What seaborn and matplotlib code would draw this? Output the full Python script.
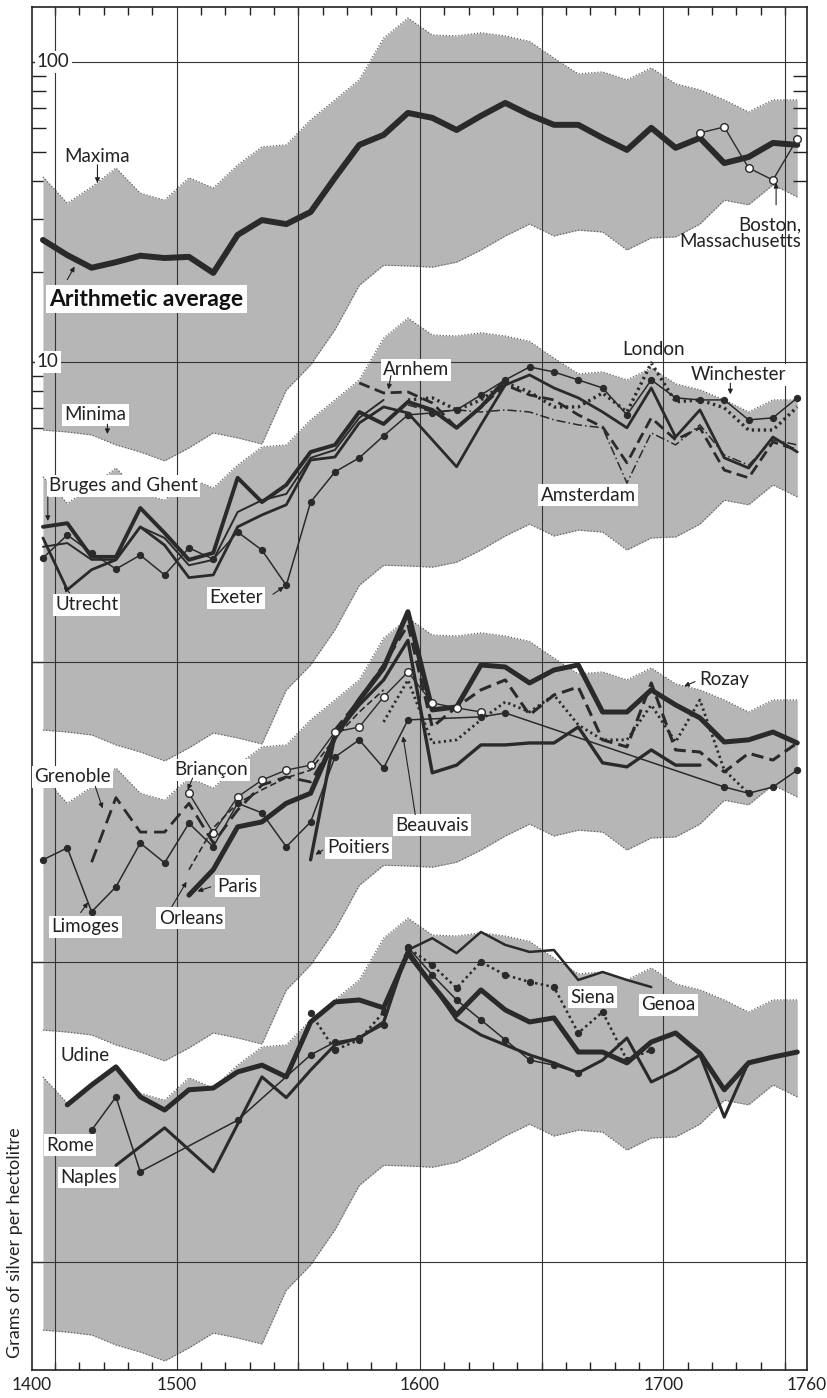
import matplotlib
matplotlib.use("Agg")
import matplotlib.pyplot as plt
from matplotlib.ticker import FixedLocator, NullLocator, NullFormatter
import numpy as np
import seaborn as sns


def yr(a, b):
    return list(range(a, b + 1, 10))


# decade mid-points, grams of silver per hectolitre
years = yr(1445, 1755)
maxima = [41.4, 33.8, 38.3, 44.3, 36.5, 34.6, 41.1, 38.0, 45.3, 52.1, 52.9, 64.1, 74.7, 87.1, 120, 140,
          123, 122, 125, 122, 117, 103, 91.2, 92.6, 87.1, 95.5, 84.5, 80.7, 74.7, 68.1, 74.7, 74.7]
minima = [5.93, 5.84, 5.71, 5.29, 5.01, 4.68, 5.17, 5.80, 5.58, 5.33, 8.06, 9.77, 12.8, 18.0, 21.0, 20.9,
          20.7, 21.5, 23.6, 26.3, 28.8, 26.3, 27.5, 27.1, 23.6, 25.9, 26.1, 28.8, 34.6, 33.4, 38.9, 35.5]

# panel 1 (plotted as is)
average = [25.5, 22.7, 20.6, 21.5, 22.6, 22.2, 22.4, 19.8, 26.5, 29.7, 28.8, 31.6, 41.1, 52.9, 57.1, 67.6,
           65.1, 59.3, 66.1, 73.0, 66.6, 61.7, 61.7, 55.8, 50.9, 60.3, 51.7, 55.8, 46.0, 48.2, 53.7, 52.9]
boston_years = yr(1715, 1755)
boston = [58.0, 60.7, 44.3, 40.4, 55.4]

# panel 2 (shifted down one decade)
bruges_years = yr(1445, 1635)
bruges = [28.2, 29.0, 22.4, 22.4, 32.6, 26.9, 21.9, 23.1, 41.1, 34.1, 38.9, 50.1, 52.9, 68.1, 62.1, 73.6,
          69.2, 60.3, 70.8, 87.1]
ghent_years = yr(1445, 1585)
ghent = [24.2, 24.9, 21.9, 21.9, 28.2, 25.9, 21.0, 21.9, 31.6, 34.6, 36.3, 47.9, 50.9, 65.1, 74.7]
utrecht_years = yr(1445, 1755)
utrecht = [25.9, 17.4, 20.3, 21.9, 28.2, 24.5, 19.1, 19.5, 28.2, 30.9, 33.4, 47.1, 48.2, 62.6, 70.8, 67.6,
           55.0, 44.7, 61.7, 83.8, 90.5, 81.9, 75.9, 68.1, 60.3, 81.9, 56.2, 69.2, 47.9, 44.3, 56.2, 50.1]
exeter_years = yr(1445, 1595)
exeter = [22.2, 26.5, 23.1, 20.4, 22.7, 19.5, 24.0, 22.0, 27.1, 23.6, 18.0, 34.1, 43.0, 47.9, 56.7, 66.6]
winchester_years = yr(1595, 1755)
winchester = [66.6, 67.6, 69.2, 77.6, 87.1, 96.2, 92.6, 87.1, 81.9, 66.6, 87.1, 75.9, 74.7, 74.7, 64.1,
              65.1, 75.9]
arnhem_years = yr(1575, 1755)
arnhem = [85.1, 78.8, 79.4, 73.0, 60.3, 70.8, 83.8, 77.6, 74.7, 66.6, 60.7, 46.1, 65.1, 55.0, 60.3, 43.6,
          41.1, 54.1, 50.9]
amsterdam_years = yr(1595, 1755)
amsterdam = [71.9, 68.1, 69.2, 68.1, 69.2, 68.1, 64.1, 61.7, 60.3, 39.5, 58.0, 52.9, 61.7, 49.0, 45.3,
             55.0, 52.9]
london_years = yr(1595, 1755)
london = [74.7, 75.9, 69.2, 74.7, 85.1, 79.4, 70.8, 70.8, 78.8, 68.1, 99.2, 73.6, 74.7, 70.3, 59.3, 59.3,
          70.8]

# panel 3 (shifted down two decades)
paris_years = yr(1505, 1755)
paris = [16.7, 20.3, 28.2, 29.3, 33.8, 36.5, 56.2, 74.7, 95.5, 147, 69.2, 70.8, 97.7, 96.2, 85.1, 94.0,
         97.7, 68.1, 68.1, 80.7, 71.9, 65.1, 54.1, 55.0, 58.4, 53.7]
poitiers_years = yr(1555, 1715)
poitiers = [21.9, 57.1, 71.9, 87.1, 118, 42.7, 45.3, 52.9, 52.9, 53.7, 53.7, 60.7, 46.1, 44.7, 50.9, 45.3,
            45.3]
rozay_years = yr(1565, 1755)
rozay = [59.3, 74.7, 97.7, 133, 60.7, 70.8, 80.7, 87.1, 66.6, 77.6, 82.5, 55.0, 52.1, 85.1, 50.9, 50.1,
         43.0, 49.6, 47.1, 53.7]
beauvais_years = yr(1585, 1735)
beauvais = [63.1, 87.1, 53.7, 55.0, 64.1, 73.6, 68.1, 77.6, 61.7, 55.0, 55.0, 71.9, 54.1, 74.7, 43.6, 36.5]
briancon_years = yr(1505, 1625)
briancon = [36.5, 26.9, 35.5, 40.4, 43.6, 45.3, 58.4, 60.7, 76.5, 92.6, 73.0, 70.3, 68.1]
limoges_years = yr(1445, 1595) + [1625, 1635, 1725, 1735, 1745, 1755]
limoges = [21.9, 24.0, 14.7, 17.8, 24.9, 21.4, 29.0, 24.2, 33.8, 31.4, 24.2, 29.3, 48.2, 55.0, 44.3, 64.1,
           65.6, 67.6, 38.3, 36.5, 38.3, 43.6]
grenoble_years = yr(1465, 1565)
grenoble = [21.5, 35.3, 27.1, 27.1, 33.8, 24.9, 32.1, 38.9, 41.4, 39.8, 55.0]
orleans_years = yr(1505, 1585)
orleans = [20.3, 28.0, 33.8, 37.5, 41.1, 43.6, 55.8, 68.1, 80.7]

# panel 4 (shifted down three decades)
udine_years = yr(1455, 1755)
udine = [33.4, 38.9, 44.7, 35.5, 32.1, 37.5, 38.0, 43.0, 45.3, 41.4, 63.1, 73.6, 74.7, 70.3, 107, 83.8,
         66.6, 80.7, 69.2, 63.1, 65.1, 50.1, 50.1, 46.1, 54.1, 58.0, 49.6, 37.5, 46.1, 48.2, 50.1]
naples_years = [1475, 1495, 1515, 1535] + yr(1545, 1755)
naples = [21.0, 28.0, 20.0, 41.4, 35.3, 43.6, 52.9, 55.8, 63.1, 109.6, 83.8, 64.1, 57.1, 52.9, 49.0, 46.1,
          42.7, 47.1, 55.8, 39.8, 43.6, 49.0, 30.4, 46.4, 48.2, 50.1]
genoa_years = yr(1595, 1695)
genoa = [109.6, 120, 107, 125.9, 114, 108, 109.6, 87.1, 92.6, 87.1, 82.5]
siena_years = yr(1555, 1695)
siena = [67.6, 50.9, 55.0, 68.1, 111.4, 97.7, 81.9, 100, 90.5, 85.8, 82.5, 58.0, 68.1, 47.1, 50.9]
rome_years = [1465, 1475, 1485, 1525] + yr(1555, 1665)
rome = [27.5, 35.5, 20.0, 29.7, 49.0, 54.1, 55.8, 61.7, 112, 90.5, 74.7, 64.1, 55.0, 47.1, 45.3, 42.7]

INK = '#2a2a2a'

sns.set_theme(style="white")
plt.rcParams['font.family'] = ['Lato', 'DejaVu Sans']

fig = plt.figure(figsize=(8.28, 13.98), dpi=100)
ax = fig.add_axes([32 / 828, 28 / 1398, 775 / 828, 1363 / 1398])
ax.set_yscale('log')
ax.set_xlim(1440.5, 1759)
ax.set_ylim(10 ** -2.36, 10 ** 2.183)

# shaded maxima/minima band, repeated for each panel
for k in range(4):
    lo = np.array(minima) / 10 ** k
    hi = np.array(maxima) / 10 ** k
    ax.fill_between(years, lo, hi, color='#b6b6b6', lw=0, zorder=1)
    ax.plot(years, hi, color='#606060', lw=0.9, ls=(0, (1, 1.5)), zorder=1.5)
    ax.plot(years, lo, color='#606060', lw=0.9, ls=(0, (1, 1.5)), zorder=1.5)

for x in range(1450, 1751, 50):
    ax.axvline(x, color='#333333', lw=0.8, zorder=2)
for y in [100, 10, 1, 0.1, 0.01]:
    ax.axhline(y, color='#333333', lw=0.8, zorder=2)


def draw(yrs, vals, panel, **kw):
    kw.setdefault('color', INK)
    kw.setdefault('markeredgecolor', INK)
    sns.lineplot(x=yrs, y=np.array(vals) / 10 ** panel, ax=ax, estimator=None, sort=False,
                 legend=False, zorder=3, **kw)


dots = dict(marker='o', markersize=4.5, markerfacecolor=INK)
rings = dict(marker='o', markersize=5.5, markerfacecolor='white', markeredgewidth=1.0)

draw(years, average, 0, lw=4.3)
draw(boston_years, boston, 0, lw=1.0, **rings)

draw(bruges_years, bruges, 1, lw=2.8)
draw(ghent_years, ghent, 1, lw=1.4)
draw(utrecht_years, utrecht, 1, lw=2.0)
draw(exeter_years, exeter, 1, lw=1.1, **dots)
draw(winchester_years, winchester, 1, lw=1.1, **dots)
draw(arnhem_years, arnhem, 1, lw=2.0, linestyle=(0, (4, 2)))
draw(amsterdam_years, amsterdam, 1, lw=1.1, linestyle=(0, (6, 2, 1, 2)))
draw(london_years, london, 1, lw=2.4, linestyle=(0, (0.7, 1.1)))

draw(paris_years, paris, 2, lw=3.6)
draw(poitiers_years, poitiers, 2, lw=2.4)
draw(rozay_years, rozay, 2, lw=2.2, linestyle=(0, (4, 2)))
draw(beauvais_years, beauvais, 2, lw=2.0, linestyle=(0, (0.8, 1.2)))
draw(briancon_years, briancon, 2, lw=1.0, **rings)
draw(limoges_years, limoges, 2, lw=1.1, **dots)
draw(grenoble_years, grenoble, 2, lw=2.0, linestyle=(0, (5, 2.5)))
draw(orleans_years, orleans, 2, lw=1.2, linestyle=(0, (4, 2)))

draw(udine_years, udine, 3, lw=3.6)
draw(naples_years, naples, 3, lw=2.2)
draw(genoa_years, genoa, 3, lw=1.8)
draw(siena_years, siena, 3, lw=1.8, linestyle=(0, (1, 1.3)), **dots)
draw(rome_years, rome, 3, lw=1.1, **dots)

# axes, ticks
ax.grid(False)
for s in ax.spines.values():
    s.set_color('#222222')
    s.set_linewidth(1.2)

ax.xaxis.set_major_locator(FixedLocator([1440.5, 1500, 1600, 1700, 1759]))
ax.set_xticklabels(['1400', '1500', '1600', '1700', '1760'])
ax.xaxis.set_minor_locator(FixedLocator(list(range(1450, 1751, 10))))
ax.tick_params(axis='x', which='major', length=0, labelsize=12.5, pad=5, colors='#222222')
ax.tick_params(axis='x', which='minor', direction='in', length=6, width=1, top=True, bottom=True,
               color='#222222')

ax.yaxis.set_major_locator(FixedLocator([0.01, 0.1, 1, 10, 100]))
ax.yaxis.set_major_formatter(NullFormatter())
ax.yaxis.set_minor_locator(FixedLocator([20, 30, 40, 50, 60, 70, 80, 90, 6, 7, 8, 9]))
ax.yaxis.set_minor_formatter(NullFormatter())
ax.tick_params(axis='y', which='major', direction='in', length=10, width=1, left=True, color='#222222')
ax.tick_params(axis='y', which='minor', direction='in', length=10, width=1, left=True, color='#222222')

ax2 = ax.twinx()
ax2.set_yscale('log')
ax2.set_ylim(ax.get_ylim())
ax2.yaxis.set_major_locator(NullLocator())
ax2.yaxis.set_minor_locator(FixedLocator([40, 50, 60, 70, 80, 90]))
ax2.yaxis.set_minor_formatter(NullFormatter())
ax2.tick_params(axis='y', which='minor', direction='in', length=10, width=1, right=True, color='#222222')
ax2.grid(False)
for s in ax2.spines.values():
    s.set_visible(False)

box = dict(boxstyle='square,pad=0.12', fc='white', ec='none')
lab = dict(fontsize=13.5, color='#222222', zorder=6, va='center')

ax.text(1442.5, 100, '100', ha='left', bbox=box, **lab)
ax.text(1442.5, 10, '10', ha='left', bbox=box, **lab)

# panel 1
ax.text(1467.4, 48.2, 'Maxima', ha='center', **lab)
ax.text(1447.5, 16.2, 'Arithmetic average', ha='left', fontsize=16.5, fontweight='bold',
        color='#111111', va='center', zorder=6, bbox=dict(boxstyle='square,pad=0.15', fc='white', ec='none'))
ax.text(1756.6, 26.9, 'Boston,\nMassachusetts', ha='right', fontsize=13.5, color='#222222',
        va='center', linespacing=1.0, zorder=6)

# panel 2
ax.text(1466.5, 6.66, 'Minima', ha='center', bbox=box, **lab)
ax.text(1447.5, 3.86, 'Bruges and Ghent', ha='left', bbox=box, **lab)
ax.text(1450.0, 1.55, 'Utrecht', ha='left', bbox=box, **lab)
ax.text(1524.4, 1.634, 'Exeter', ha='center', bbox=box, **lab)
ax.text(1598.3, 9.40, 'Arnhem', ha='center', bbox=box, **lab)
ax.text(1695.9, 10.96, 'London', ha='center', **lab)
ax.text(1731.0, 9.05, 'Winchester', ha='center', bbox=box, **lab)
ax.text(1669.0, 3.60, 'Amsterdam', ha='center', bbox=box, **lab)

# panel 3
ax.text(1457.0, 0.414, 'Grenoble', ha='center', bbox=box, **lab)
ax.text(1514.0, 0.437, 'Briançon', ha='center', bbox=box, **lab)
ax.text(1462.4, 0.131, 'Limoges', ha='center', bbox=box, **lab)
ax.text(1505.8, 0.140, 'Orleans', ha='center', bbox=box, **lab)
ax.text(1524.8, 0.179, 'Paris', ha='center', bbox=box, **lab)
ax.text(1574.8, 0.240, 'Poitiers', ha='center', bbox=box, **lab)
ax.text(1605.0, 0.286, 'Beauvais', ha='center', bbox=box, **lab)
ax.text(1724.8, 0.871, 'Rozay', ha='center', **lab)

# panel 4
ax.text(1462.4, 0.0486, 'Udine', ha='center', **lab)
ax.text(1456.0, 0.0245, 'Rome', ha='center', bbox=box, **lab)
ax.text(1463.6, 0.0191, 'Naples', ha='center', bbox=box, **lab)
ax.text(1671.0, 0.0764, 'Siena', ha='center', bbox=box, **lab)
ax.text(1702.0, 0.0719, 'Genoa', ha='center', bbox=box, **lab)

arrow = dict(arrowstyle='-|>', lw=0.8, color='#222222', mutation_scale=7, shrinkA=0, shrinkB=0)
pointers = [
    ((1467.4, 45.4), (1467.4, 39.5)),      # maxima
    ((1455.0, 18.8), (1458.0, 20.8)),      # average
    ((1746.3, 33.4), (1746.3, 39.5)),      # boston
    ((1471.5, 6.2), (1471.5, 5.75)),       # minima
    ((1447.0, 3.55), (1447.0, 2.95)),      # bruges
    ((1456.0, 1.70), (1453.5, 1.78)),      # utrecht
    ((1539.5, 1.68), (1544.0, 1.78)),      # exeter
    ((1588.0, 9.0), (1587.0, 8.1)),        # arnhem
    ((1727.5, 8.5), (1727.5, 7.8)),        # winchester
    ((1466.5, 0.385), (1469.5, 0.325)),    # grenoble
    ((1506.5, 0.41), (1504.5, 0.375)),     # briancon
    ((1460.5, 0.146), (1463.5, 0.158)),    # limoges
    ((1498.0, 0.153), (1504.0, 0.185)),    # orleans
    ((1514.0, 0.178), (1508.5, 0.172)),    # paris
    ((1560.0, 0.236), (1557.0, 0.228)),    # poitiers
    ((1598.0, 0.31), (1593.0, 0.565)),     # beauvais
    ((1713.0, 0.86), (1708.5, 0.83)),      # rozay
]
for tail, head in pointers:
    ax.annotate('', xy=head, xytext=tail, arrowprops=arrow, zorder=6)

fig.text(15 / 828, 1 - 1243 / 1398, 'Grams of silver per hectolitre', rotation=90, fontsize=13,
         color='#222222', ha='center', va='center')

fig.savefig('out.png', dpi=100)
